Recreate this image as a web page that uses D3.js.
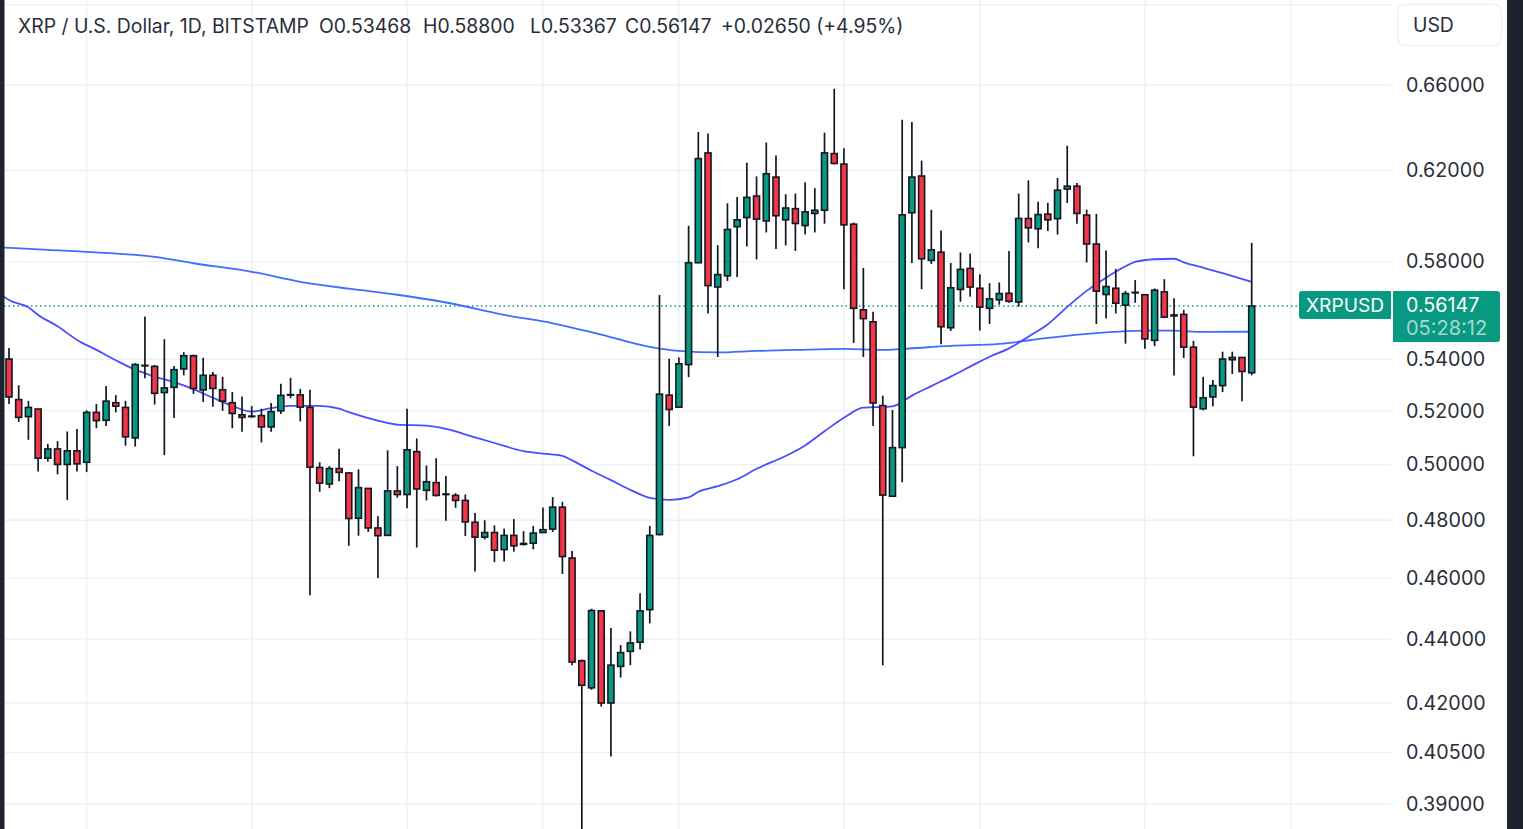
<!DOCTYPE html>
<html>
<head>
<meta charset="utf-8">
<title>XRP / U.S. Dollar</title>
<script src="https://cdn.jsdelivr.net/npm/d3@7"></script>
<style>
  body { margin: 0; background: #fff; overflow: hidden; }
  text { font-family: Inter, "Noto Sans", sans-serif; }
</style>
</head>
<body>
<script>
// daily candles, oldest first
const opens = [
  0.5401,0.5243,0.5178,0.5207,0.5023,0.5057,0.5000,0.5050,0.5008,0.5194,
  0.5164,0.5231,0.5213,0.5098,0.5376,0.5372,0.5270,0.5290,0.5362,0.5414,
  0.5280,0.5337,0.5281,0.5231,0.5185,0.5180,0.5182,0.5139,0.5200,0.5262,
  0.5261,0.5213,0.4989,0.4929,0.4985,0.4969,0.4807,0.4913,0.4773,0.4747,
  0.4904,0.4891,0.5047,0.4906,0.4934,0.4893,0.4888,0.4870,0.4793,0.4741,
  0.4757,0.4698,0.4747,0.4719,0.4720,0.4757,0.4769,0.4846,0.4669,0.4331,
  0.4246,0.4492,0.4199,0.4313,0.4361,0.4390,0.4496,0.4750,0.5260,0.5214,
  0.5379,0.5795,0.6280,0.5693,0.5740,0.5950,0.5990,0.6085,0.5975,0.6170,
  0.5980,0.6029,0.5955,0.6008,0.6022,0.6277,0.6229,0.5961,0.5599,0.5550,
  0.5220,0.4885,0.5062,0.6011,0.6175,0.5805,0.5840,0.5526,0.5683,0.5771,
  0.5688,0.5605,0.5640,0.5667,0.5631,0.5986,0.5941,0.6005,0.5985,0.6116,
  0.6129,0.6001,0.5875,0.5662,0.5688,0.5618,0.5671,0.5661,0.5475,0.5673,
  0.5578,0.5580,0.5448,0.5208,0.5253,0.5297,0.5398,0.5407,0.53468
];
const highs = [
  0.5445,0.5298,0.5238,0.5207,0.5076,0.5086,0.5122,0.5131,0.5202,0.5226,
  0.5295,0.5260,0.5238,0.5385,0.5572,0.5377,0.5480,0.5373,0.5428,0.5418,
  0.5406,0.5350,0.5331,0.5272,0.5255,0.5218,0.5208,0.5230,0.5304,0.5327,
  0.5284,0.5281,0.5008,0.4994,0.5058,0.4970,0.4982,0.4913,0.4814,0.5052,
  0.4994,0.5208,0.5096,0.4996,0.5023,0.4958,0.4896,0.4891,0.4825,0.4800,
  0.4782,0.4770,0.4804,0.4762,0.4780,0.4845,0.4882,0.4865,0.4693,0.4335,
  0.4499,0.4492,0.4436,0.4381,0.4425,0.4550,0.4780,0.5660,0.5402,0.5407,
  0.5954,0.6377,0.6370,0.5870,0.6053,0.6081,0.6235,0.6173,0.6328,0.6268,
  0.6093,0.6096,0.6147,0.6120,0.6374,0.6582,0.6302,0.5968,0.5773,0.5591,
  0.5258,0.5203,0.6434,0.6424,0.6245,0.6024,0.5933,0.5794,0.5839,0.5834,
  0.5746,0.5709,0.5712,0.5845,0.6096,0.6155,0.6060,0.6055,0.6166,0.6313,
  0.6143,0.6025,0.6006,0.5847,0.5769,0.5677,0.5722,0.5664,0.5687,0.5726,
  0.5646,0.5599,0.5473,0.5331,0.5319,0.5430,0.5430,0.5407,0.58800
];
const lows = [
  0.5226,0.5158,0.5091,0.4974,0.5010,0.4964,0.4872,0.4974,0.4972,0.5134,
  0.5143,0.5194,0.5069,0.5066,0.5325,0.5224,0.5034,0.5173,0.5337,0.5265,
  0.5234,0.5216,0.5200,0.5134,0.5121,0.5174,0.5081,0.5121,0.5188,0.5248,
  0.5160,0.4544,0.4901,0.4914,0.4939,0.4711,0.4746,0.4759,0.4601,0.4745,
  0.4880,0.4842,0.4705,0.4870,0.4884,0.4798,0.4844,0.4745,0.4623,0.4733,
  0.4655,0.4657,0.4691,0.4712,0.4699,0.4755,0.4759,0.4615,0.4317,0.3780,
  0.4240,0.4188,0.4038,0.4278,0.4317,0.4367,0.4451,0.4747,0.5143,0.5214,
  0.5330,0.5795,0.5584,0.5409,0.5718,0.5735,0.5864,0.5809,0.5925,0.5854,
  0.5869,0.5845,0.5916,0.5925,0.5963,0.6227,0.5684,0.5465,0.5409,0.5143,
  0.4317,0.4884,0.4935,0.5794,0.5684,0.5790,0.5460,0.5513,0.5632,0.5653,
  0.5515,0.5541,0.5620,0.5628,0.5612,0.5882,0.5857,0.5931,0.5916,0.6054,
  0.5963,0.5796,0.5541,0.5563,0.5584,0.5462,0.5628,0.5442,0.5452,0.5566,
  0.5336,0.5405,0.5030,0.5202,0.5217,0.5272,0.5342,0.5237,0.53367
];
const closes = [
  0.5253,0.5175,0.5213,0.5023,0.5057,0.5000,0.5050,0.5002,0.5194,0.5163,
  0.5237,0.5218,0.5102,0.5379,0.5374,0.5267,0.5288,0.5359,0.5414,0.5286,
  0.5337,0.5286,0.5237,0.5190,0.5175,0.5178,0.5139,0.5197,0.5259,0.5260,
  0.5214,0.4990,0.4932,0.4985,0.4971,0.4806,0.4916,0.4773,0.4746,0.4904,
  0.4891,0.5054,0.4911,0.4937,0.4888,0.4891,0.4870,0.4794,0.4741,0.4757,
  0.4696,0.4747,0.4711,0.4716,0.4755,0.4767,0.4846,0.4674,0.4327,0.4254,
  0.4493,0.4199,0.4317,0.4357,0.4388,0.4492,0.4747,0.5264,0.5205,0.5382,
  0.5795,0.6254,0.5699,0.5745,0.5938,0.5980,0.6079,0.5983,0.6185,0.5998,
  0.6032,0.5964,0.6015,0.6022,0.6280,0.6232,0.5958,0.5605,0.5563,0.5230,
  0.4889,0.5062,0.6002,0.6170,0.5812,0.5850,0.5530,0.5690,0.5767,0.5693,
  0.5610,0.5644,0.5666,0.5634,0.5986,0.5945,0.6003,0.5980,0.6111,0.6129,
  0.6008,0.5875,0.5676,0.5695,0.5626,0.5666,0.5669,0.5481,0.5680,0.5569,
  0.5574,0.5448,0.5214,0.5250,0.5297,0.5401,0.5407,0.5352,0.56147
];

// moving averages, read at the candle numbers listed
const fastDays = [-1,0,2,3,5,7,9,11,13,15,17,19,21,23,25,27,29,32,34,35,38,40,43,45,48,50,53,55,57,58,60,62,64,66,68,70,71,73,75,77,80,82,84,86,88,91,93,95,97,99,101,103,105,107,109,111,113,115,116,118,120,121,123,125,128];
const fastAvg = [0.5669,0.5639,0.5609,0.5578,0.5532,0.5477,0.5437,0.5396,0.5359,0.5332,0.5310,0.5283,0.5250,0.5219,0.5197,0.5210,0.5219,0.5219,0.5208,0.5195,0.5163,0.5148,0.5144,0.5132,0.5100,0.5079,0.5049,0.5040,0.5031,0.5015,0.4977,0.4943,0.4908,0.4879,0.4872,0.4881,0.4901,0.4921,0.4946,0.4984,0.5031,0.5070,0.5123,0.5174,0.5212,0.5217,0.5258,0.5295,0.5332,0.5371,0.5410,0.5443,0.5490,0.5540,0.5611,0.5677,0.5732,0.5780,0.5799,0.5810,0.5812,0.5797,0.5774,0.5751,0.5715];
const slowDays = [-1,4,9,15,19,25,30,35,40,45,51,56,61,66,69,73,77,81,86,90,92,97,102,107,112,117,120,123,128];
const slowAvg = [0.5861,0.5850,0.5839,0.5820,0.5793,0.5757,0.5715,0.5686,0.5661,0.5629,0.5578,0.5544,0.5498,0.5449,0.5433,0.5427,0.5433,0.5437,0.5441,0.5437,0.5441,0.5453,0.5461,0.5485,0.5504,0.5514,0.5514,0.5509,0.5510];

const priceTicks = [0.66, 0.62, 0.58, 0.54, 0.52, 0.5, 0.48, 0.46, 0.44, 0.42, 0.405, 0.39];
const gridPrices = [0.7].concat(priceTicks);
const gridDays = [8, 25, 41, 55, 69, 86, 100, 117, 132];
const lastPrice = 0.56147;
const symbol = "XRPUSD";
const countdown = "05:28:12";
const currency = "USD";
const headerParts = [
  ["XRP / U.S. Dollar, 1D, BITSTAMP", 18],
  ["O0.53468", 319],
  ["H0.58800", 423],
  ["L0.53367", 530],
  ["C0.56147", 625],
  ["+0.02650 (+4.95%)", 721]
];

const width = 1523, height = 829;
const upColor = "#089981", downColor = "#f23645", wickColor = "#131722";
const gridColor = "#eef0f5", textColor = "#2a2e39", bandColor = "#1e222d";

const x = d3.scaleLinear().domain([0, 128]).range([9, 1251.7]);
const y = d3.scaleLog().domain([0.66, 0.39]).range([85, 804]);

const svg = d3.select("body").append("svg")
  .attr("width", width)
  .attr("height", height)
  .style("display", "block");

svg.append("clipPath").attr("id", "pane")
  .append("rect").attr("x", 4).attr("y", 0).attr("width", 1387).attr("height", height);

const pane = svg.append("g").attr("clip-path", "url(#pane)");

// grid
pane.selectAll("line.h").data(gridPrices).join("line")
  .attr("class", "h")
  .attr("x1", 4).attr("x2", 1391)
  .attr("y1", d => y(d)).attr("y2", d => y(d))
  .attr("stroke", gridColor).attr("stroke-width", 1.4);
pane.selectAll("line.v").data(gridDays).join("line")
  .attr("class", "v")
  .attr("x1", d => x(d)).attr("x2", d => x(d))
  .attr("y1", 0).attr("y2", height)
  .attr("stroke", gridColor).attr("stroke-width", 1.4);

// last price line
pane.append("line")
  .attr("x1", 4).attr("x2", 1299)
  .attr("y1", y(lastPrice)).attr("y2", y(lastPrice))
  .attr("stroke", upColor).attr("stroke-width", 1.5)
  .attr("stroke-dasharray", "1.5 3");

// moving averages
const avgLine = d3.line().x(d => x(d[0])).y(d => y(d[1])).curve(d3.curveMonotoneX);
pane.append("path")
  .attr("d", avgLine(d3.zip(slowDays, slowAvg)))
  .attr("fill", "none").attr("stroke", "#3f6dff").attr("stroke-width", 1.8);
pane.append("path")
  .attr("d", avgLine(d3.zip(fastDays, fastAvg)))
  .attr("fill", "none").attr("stroke", "#4a4dff").attr("stroke-width", 1.8);

// candles
const candles = pane.selectAll("g.candle").data(opens).join("g").attr("class", "candle");
candles.append("line")
  .attr("x1", (d, i) => x(i)).attr("x2", (d, i) => x(i))
  .attr("y1", (d, i) => y(highs[i])).attr("y2", (d, i) => y(lows[i]))
  .attr("stroke", wickColor).attr("stroke-width", 1.7);
candles.append("rect")
  .attr("x", (d, i) => x(i) - 3)
  .attr("width", 6)
  .attr("y", (d, i) => y(Math.max(d, closes[i])))
  .attr("height", (d, i) => Math.abs(y(d) - y(closes[i])))
  .attr("fill", (d, i) => closes[i] >= d ? upColor : downColor)
  .attr("stroke", wickColor).attr("stroke-width", 1.6);

// price axis
const axis = svg.append("g")
  .attr("transform", "translate(1406,0)")
  .call(d3.axisRight(y).tickValues(priceTicks).tickFormat(d3.format(".5f")).tickSize(0).tickPadding(0));
axis.select(".domain").remove();
axis.selectAll("text")
  .style("font-family", "Inter, sans-serif")
  .style("font-size", "19.7px")
  .attr("fill", textColor);

// header
svg.selectAll("text.head").data(headerParts).join("text")
  .attr("class", "head")
  .attr("x", d => d[1]).attr("y", 33)
  .attr("font-size", 19.4).attr("fill", textColor)
  .text(d => d[0]);

// currency button
svg.append("rect")
  .attr("x", 1397.5).attr("y", 4.5).attr("width", 104).attr("height", 41).attr("rx", 7)
  .attr("fill", "#fff").attr("stroke", gridColor).attr("stroke-width", 1.4);
svg.append("text")
  .attr("x", 1413).attr("y", 32).attr("font-size", 19.4).attr("fill", textColor)
  .text(currency);

// symbol and price tags
const lastY = y(lastPrice);
svg.append("path")
  .attr("d", `M1391,${lastY - 15}H1302a3,3 0 0 0 -3,3V${lastY + 10}a3,3 0 0 0 3,3H1391Z`)
  .attr("fill", upColor);
svg.append("text")
  .attr("x", 1306).attr("y", lastY + 6).attr("font-size", 19.2).attr("fill", "#fff")
  .text(symbol);
svg.append("path")
  .attr("d", `M1393,${lastY - 15}H1497a3,3 0 0 1 3,3V${lastY + 33}a3,3 0 0 1 -3,3H1393Z`)
  .attr("fill", upColor);
svg.append("text")
  .attr("x", 1406).attr("y", lastY + 6).attr("font-size", 19.7).attr("fill", "#fff")
  .text(d3.format(".5f")(lastPrice));
svg.append("text")
  .attr("x", 1406).attr("y", lastY + 29).attr("font-size", 20).attr("fill", "#fff").attr("fill-opacity", 0.65)
  .text(countdown);

// window edges
svg.append("rect").attr("x", 0).attr("y", 0).attr("width", 4.5).attr("height", height).attr("fill", bandColor);
svg.append("rect").attr("x", 1507).attr("y", 0).attr("width", 16).attr("height", height).attr("fill", bandColor);
</script>
</body>
</html>
